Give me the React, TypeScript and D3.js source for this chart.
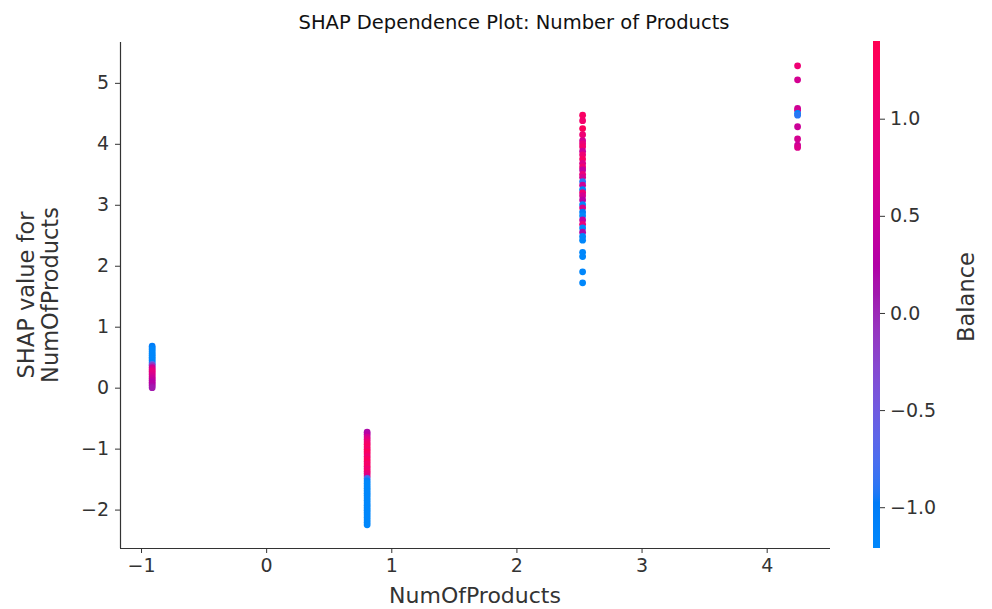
import React, { useEffect, useRef } from "react";
import * as d3 from "d3";

// standardized NumOfProducts values (1, 2, 3, 4 products)
const groupX = [-0.911, 0.807, 2.529, 4.247];

// [shap value, Balance] pairs, one list per group
const oneProduct: [number, number][] = [
  [0.68, -1.0], [0.65, -1.1], [0.62, -1.2], [0.59, -1.2], [0.56, -1.2], [0.53, -1.2],
  [0.5, -1.2], [0.47, -1.2], [0.44, -1.2], [0.41, -1.1], [0.38, -0.6], [0.36, -0.1],
  [0.33, 0.5], [0.3, 0.7], [0.27, 0.9], [0.24, 0.8], [0.21, 0.7], [0.18, 0.6],
  [0.15, 0.5], [0.12, 0.4], [0.09, 0.3], [0.06, 0.3], [0.03, 0.2], [0.0, 0.1],
];

const twoProducts: [number, number][] = [
  [-0.73, 0.2], [-0.77, 0.3], [-0.81, 0.6], [-0.85, 0.8], [-0.89, 1.0], [-0.93, 1.1],
  [-0.97, 1.2], [-1.01, 1.1], [-1.05, 1.3], [-1.09, 1.2], [-1.13, 1.0], [-1.17, 1.2],
  [-1.21, 1.3], [-1.25, 1.1], [-1.29, 1.2], [-1.33, 1.0], [-1.37, 1.1], [-1.41, 0.9],
  [-1.45, 0.7], [-1.49, -0.8], [-1.53, -1.1], [-1.57, -1.2], [-1.61, -1.2], [-1.65, -1.2],
  [-1.69, -1.2], [-1.73, -1.2], [-1.77, -1.2], [-1.81, -1.2], [-1.85, -1.2], [-1.89, -1.2],
  [-1.93, -1.2], [-1.97, -1.2], [-2.01, -1.2], [-2.05, -1.2], [-2.09, -1.2], [-2.13, -1.2],
  [-2.17, -1.2], [-2.21, -1.2], [-2.25, -1.2],
];

const threeProducts: [number, number][] = [
  [4.47, 1.2], [4.38, 1.1], [4.25, 1.3], [4.15, 1.0], [4.05, 0.6], [4.0, 0.9],
  [3.95, 1.1], [3.88, 0.5], [3.82, 1.0], [3.75, 1.2], [3.68, 0.7], [3.62, 1.0],
  [3.57, 0.4], [3.5, 0.9], [3.45, 0.6], [3.38, -0.9], [3.32, 0.5], [3.25, -1.1],
  [3.2, 1.0], [3.15, 0.6], [3.08, 0.3], [3.0, -1.2], [2.95, 0.7], [2.88, -1.0],
  [2.82, -1.2], [2.75, 0.4], [2.68, 0.9], [2.62, -1.2], [2.55, 0.2], [2.48, -1.2],
  [2.42, -1.2], [2.22, -1.2], [2.15, -1.2], [1.9, -1.2], [1.72, -1.2],
];

const fourProducts: [number, number][] = [
  [5.28, 1.0], [5.05, 0.6], [4.58, 0.5], [4.55, 0.6], [4.5, -1.2], [4.47, -0.9],
  [4.28, 0.5], [4.08, 0.6], [3.98, 0.5], [3.94, 0.7],
];

const groups = [oneProduct, twoProducts, threeProducts, fourProducts];

const xTicks = [-1, 0, 1, 2, 3, 4];
const yTicks = [-2, -1, 0, 1, 2, 3, 4, 5];
const barTicks = [-1.0, -0.5, 0.0, 0.5, 1.0];
const balanceRange = [-1.21, 1.4];

const width = 992,
  height = 609;
const font = "DejaVu Sans, sans-serif";
const axisColor = "#333333";

// shap's red_blue map, interpolated in LCH like the library does
function redBlue(t: number) {
  const l = t < 0.5 ? 54 - 14 * (t / 0.5) : 40 + 14 * ((t - 0.5) / 0.5);
  const c = 70 + 20 * t;
  const h0 = 4.6588,
    h1 = 0.35470565 + 2 * Math.PI;
  const h = ((h0 + (h1 - h0) * t) * 180) / Math.PI;
  return d3.hcl(h, c, l).formatHex();
}

export default function App() {
  const ref = useRef<SVGSVGElement>(null);

  useEffect(() => {
    const svg = d3.select(ref.current);
    svg.selectAll("*").remove();

    const x = d3.scaleLinear().domain([-1.168, 4.506]).range([120, 830]);
    const y = d3.scaleLinear().domain([-2.63, 5.67]).range([548, 42]);
    const cb = d3.scaleLinear().domain(balanceRange).range([548, 41]);
    const color = (v: number) =>
      redBlue(Math.max(0, Math.min(1, (v - balanceRange[0]) / (balanceRange[1] - balanceRange[0]))));

    svg.append("rect").attr("width", width).attr("height", height).attr("fill", "white");

    // points
    groups.forEach((g, i) => {
      svg
        .append("g")
        .selectAll("circle")
        .data(g)
        .enter()
        .append("circle")
        .attr("cx", x(groupX[i]))
        .attr("cy", (d) => y(d[0]))
        .attr("r", 3.4)
        .attr("fill", (d) => color(d[1]));
    });

    // axes
    const xAxis = svg
      .append("g")
      .attr("transform", "translate(0,548)")
      .call(d3.axisBottom(x).tickValues(xTicks).tickSize(5).tickPadding(6).tickFormat(d3.format("d")));
    const yAxis = svg
      .append("g")
      .attr("transform", "translate(120,0)")
      .call(d3.axisLeft(y).tickValues(yTicks).tickSize(5).tickPadding(6).tickFormat(d3.format("d")));
    [xAxis, yAxis].forEach((a) => {
      a.select(".domain").attr("stroke", axisColor).attr("stroke-width", 1.2);
      a.selectAll(".tick line").attr("stroke", axisColor);
      a.selectAll(".tick text").attr("fill", axisColor).style("font-family", font).style("font-size", "19px");
    });
    // matplotlib spine runs exactly over the plot area
    xAxis.select(".domain").attr("d", "M120,0.5H830");
    yAxis.select(".domain").attr("d", "M0.5,42V548");

    // colorbar
    const defs = svg.append("defs");
    const grad = defs
      .append("linearGradient")
      .attr("id", "cbar")
      .attr("x1", 0)
      .attr("y1", 1)
      .attr("x2", 0)
      .attr("y2", 0);
    d3.range(0, 101).forEach((k) => {
      grad.append("stop").attr("offset", k / 100).attr("stop-color", redBlue(k / 100));
    });
    svg.append("rect").attr("x", 873).attr("y", 41).attr("width", 7).attr("height", 507).attr("fill", "url(#cbar)");
    const cbAxis = svg
      .append("g")
      .attr("transform", "translate(880,0)")
      .call(d3.axisRight(cb).tickValues(barTicks).tickSize(5).tickPadding(5).tickFormat(d3.format(".1f")));
    cbAxis.select(".domain").remove();
    cbAxis.selectAll(".tick line").attr("stroke", axisColor);
    cbAxis.selectAll(".tick text").attr("fill", axisColor).style("font-family", font).style("font-size", "19px");

    // labels
    const label = (txt: string, tx: number, ty: number, rot: number, size: number) =>
      svg
        .append("text")
        .attr("transform", `translate(${tx},${ty}) rotate(${rot})`)
        .attr("text-anchor", "middle")
        .attr("fill", axisColor)
        .style("font-family", font)
        .style("font-size", size + "px")
        .text(txt);

    label("SHAP Dependence Plot: Number of Products", 514, 29, 0, 19.5).attr("fill", "#111");
    label("NumOfProducts", 475, 603, 0, 22);
    label("SHAP value for", 34, 295, -90, 22.5);
    label("NumOfProducts", 58, 295, -90, 22.5);
    label("Balance", 974, 297, -90, 22.5);
  }, []);

  return (
    <div>
      <svg ref={ref} width={width} height={height} style={{ position: "absolute", left: 0, top: 0 }}></svg>
    </div>
  );
}
